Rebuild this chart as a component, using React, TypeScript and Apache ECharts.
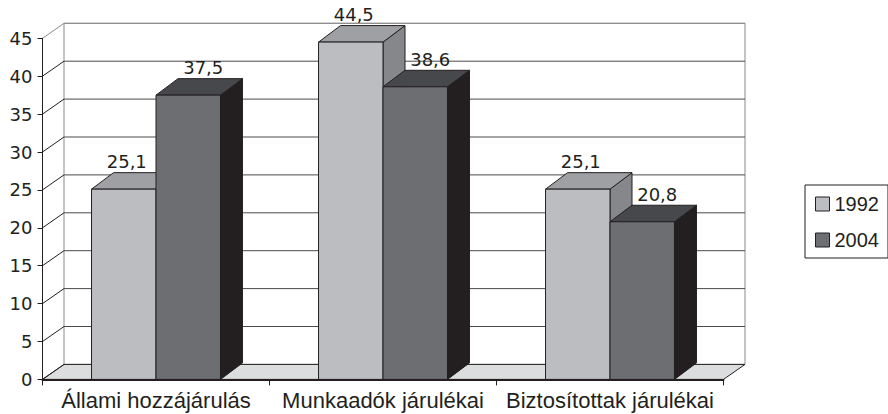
import React, { useEffect, useRef } from "react";
import * as echarts from "echarts";

const categories = ["Állami hozzájárulás", "Munkaadók járulékai", "Biztosítottak járulékai"];
const seriesNames = ["1992", "2004"];
const values1992 = [25.1, 44.5, 25.1];
const values2004 = [37.5, 38.6, 20.8];
const yTicks = [0, 5, 10, 15, 20, 25, 30, 35, 40, 45];

const FONT = "DejaVu Sans";
const FONT2 = "Liberation Sans";
const INK = "#231f20";
const faces = [
  { front: "#bcbdc1", top: "#9fa0a4", side: "#86878b", labelDx: 3 },
  { front: "#6d6e72", top: "#47484c", side: "#231f20", labelDx: 15 },
];
const BAR_DX = 22;
const BAR_DY = -16.5;
const WALL_DX = 21.5;
const WALL_DY = -15;
const BAR_FRAC = 0.284;

function fmt(v: number) {
  return v.toFixed(1).replace(".", ",");
}

function makeBarRenderer(si: number) {
  return (params: any, api: any) => {
    const cat = api.value(0);
    const val = api.value(1);
    const base = api.coord([cat, 0]);
    const top = api.coord([cat, val]);
    const band = api.size([1, 0])[0];
    const w = band * BAR_FRAC;
    const x0 = si === 0 ? base[0] - w : base[0];
    const x1 = x0 + w;
    const by = base[1];
    const ty = top[1];
    const f = faces[si];
    return {
      type: "group",
      children: [
        {
          type: "polygon",
          shape: { points: [[x1, ty], [x1, by], [x1 + BAR_DX, by + BAR_DY], [x1 + BAR_DX, ty + BAR_DY]] },
          style: { fill: f.side, stroke: INK, lineWidth: 1 },
        },
        {
          type: "polygon",
          shape: { points: [[x0, ty], [x1, ty], [x1 + BAR_DX, ty + BAR_DY], [x0 + BAR_DX, ty + BAR_DY]] },
          style: { fill: f.top, stroke: INK, lineWidth: 1 },
        },
        {
          type: "rect",
          shape: { x: x0, y: ty, width: w, height: by - ty },
          style: { fill: f.front, stroke: INK, lineWidth: 1 },
        },
        {
          type: "text",
          x: (x0 + x1) / 2 + f.labelDx,
          y: ty + BAR_DY - 2,
          style: {
            text: fmt(val),
            fill: INK,
            font: `18px "${FONT}"`,
            align: "center",
            verticalAlign: "bottom",
          },
        },
      ],
    };
  };
}

function renderFrame(params: any, api: any) {
  const band = api.size([1, 0])[0];
  const left = api.coord([0, 0])[0] - band / 2;
  const right = api.coord([categories.length - 1, 0])[0] + band / 2;
  const y0 = api.coord([0, 0])[1];
  const yTop = api.coord([0, yTicks[yTicks.length - 1]])[1];
  const children: any[] = [];
  children.push({
    type: "rect",
    shape: { x: left + WALL_DX, y: yTop + WALL_DY, width: right - left, height: y0 - yTop },
    style: { fill: "#ffffff", stroke: "#8a8a8a", lineWidth: 1 },
  });
  children.push({
    type: "polygon",
    shape: { points: [[left, y0], [right, y0], [right + WALL_DX, y0 + WALL_DY], [left + WALL_DX, y0 + WALL_DY]] },
    style: { fill: "#dcdddf", stroke: INK, lineWidth: 1 },
  });
  yTicks.forEach((v, i) => {
    const y = api.coord([0, v])[1];
    const isTop = i === yTicks.length - 1;
    if (v !== 0) {
      children.push({
        type: "line",
        shape: { x1: left + WALL_DX, y1: y + WALL_DY, x2: right + WALL_DX, y2: y + WALL_DY },
        style: { stroke: isTop ? "#8a8a8a" : "#4a4a4a", lineWidth: 1 },
      });
    }
    children.push({
      type: "line",
      shape: { x1: left, y1: y, x2: left + WALL_DX, y2: y + WALL_DY },
      style: { stroke: isTop ? "#8a8a8a" : INK, lineWidth: 1 },
    });
  });
  return { type: "group", children };
}

export default function App() {
  const ref = useRef<HTMLDivElement>(null);
  useEffect(() => {
    if (!ref.current) return;
    const chart = echarts.init(ref.current, undefined, { renderer: "svg" });
    const seriesData = [values1992, values2004];
    chart.setOption({
      animation: false,
      backgroundColor: "#ffffff",
      textStyle: { fontFamily: FONT },
      grid: { left: 42.5, right: 164.5, top: 38.3, bottom: 34.6 },
      legend: {
        orient: "vertical",
        left: 805,
        top: 185,
        data: seriesNames,
        icon: "rect",
        itemWidth: 14,
        itemHeight: 14,
        itemGap: 16,
        itemTextGap: 8,
        itemStyle: { borderColor: INK, borderWidth: 1 },
        padding: [9, 9, 8, 10],
        borderColor: INK,
        borderWidth: 1,
        textStyle: { fontSize: 20, color: INK, fontFamily: FONT2 },
      },
      xAxis: {
        type: "category",
        data: categories,
        z: 5,
        axisLine: { show: true, lineStyle: { color: INK, width: 2 } },
        axisTick: { show: true, length: 6, lineStyle: { color: INK } },
        axisLabel: { interval: 0, fontSize: 22, color: INK, margin: 10, fontFamily: FONT2 },
        splitLine: { show: false },
      },
      yAxis: {
        type: "value",
        min: 0,
        max: 45,
        interval: 5,
        z: 5,
        axisLine: { show: true, lineStyle: { color: INK, width: 1 } },
        axisTick: { show: true, length: 5, lineStyle: { color: INK } },
        axisLabel: { fontSize: 18, color: INK, margin: 10, fontFamily: FONT },
        splitLine: { show: false },
      },
      series: [
        {
          type: "custom",
          name: "frame",
          z: 1,
          clip: false,
          silent: true,
          renderItem: renderFrame,
          data: [[0, 0]],
          encode: { x: 0, y: 1 },
        },
        ...seriesNames.map((name, si) => ({
          type: "custom",
          name,
          z: 2,
          clip: false,
          itemStyle: { color: faces[si].front },
          renderItem: makeBarRenderer(si),
          data: seriesData[si].map((v, i) => [i, v]),
          encode: { x: 0, y: 1 },
        })),
      ],
    });
    return () => chart.dispose();
  }, []);
  return (
    <div
      ref={ref}
      style={{ position: "fixed", left: 0, top: 0, width: 888, height: 414 }}
    />
  );
}
